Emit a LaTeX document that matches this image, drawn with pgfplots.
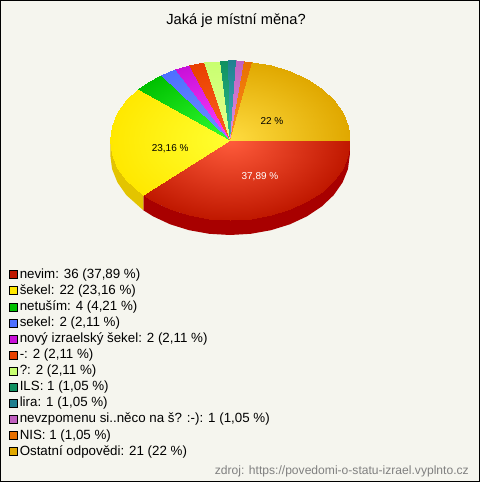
\documentclass[border=0pt]{standalone}
\usepackage{pgfplots}
\pgfplotsset{compat=1.18}
\usepackage{fontspec}
\setmainfont{Liberation Sans}
\definecolor{bgc}{HTML}{F5F5EE}
\pgfplotsset{
 slice/.style n args={2}{patch,patch type=triangle,shader=interp,forget plot,
  point meta=explicit,point meta min=0,point meta max=1,
  colormap={m}{color(0)=(#1) color(1)=(#2)},colormap name=m},
 leg/.style={legend image code/.code={\draw[black,line width=.6pt,fill=#1] (0pt,-3pt) rectangle (6pt,3pt);\path (6.9pt,0pt);}},
}
\definecolor{c1}{HTML}{C01800}\definecolor{c2}{HTML}{FFE800}\definecolor{c3}{HTML}{00C000}
\definecolor{c4}{HTML}{4D6FFF}\definecolor{c5}{HTML}{C810D8}\definecolor{c6}{HTML}{E84000}
\definecolor{c7}{HTML}{C8FF70}\definecolor{c8}{HTML}{109060}\definecolor{c9}{HTML}{208090}
\definecolor{c10}{HTML}{C060C0}\definecolor{c11}{HTML}{E87000}\definecolor{c12}{HTML}{E0A800}
\definecolor{d1}{HTML}{FF5C3C}\definecolor{d2}{HTML}{FFFF30}\definecolor{d3}{HTML}{33FF33}
\definecolor{d4}{HTML}{7090FF}\definecolor{d5}{HTML}{FF40FF}\definecolor{d6}{HTML}{FF6020}
\definecolor{d7}{HTML}{E8FF90}\definecolor{d8}{HTML}{30C090}\definecolor{d9}{HTML}{40B0C0}
\definecolor{d10}{HTML}{E090E0}\definecolor{d11}{HTML}{FF9020}\definecolor{d12}{HTML}{FFDC40}
\definecolor{wa}{HTML}{A80000}\definecolor{wb}{HTML}{E3C400}
\begin{document}
\begin{tikzpicture}
\begin{axis}[
 scale only axis,width=359.25pt,height=360.75pt,
 xmin=-1.9167,xmax=2.0833,ymin=-4.275,ymax=1.75,
 xtick=\empty,ytick=\empty,
 axis background/.style={fill=bgc},
 axis line style={black,line width=.75pt},
 clip=false,
 legend style={at={(axis cs:-1.845,-1.6)},anchor=north west,draw=none,fill=none,
  font=\fontsize{10pt}{12pt}\selectfont,row sep=1.87pt,inner sep=0pt,outer sep=0pt,
  nodes={inner sep=.6pt,text height=7pt,text depth=2pt}},
 legend cell align=left,
]
% side wall
\addplot[fill=wa,draw=none,forget plot] coordinates {
(1,0)(.9848,-.1736)(.9397,-.3420)(.8660,-.5)(.7660,-.6428)(.6428,-.7660)(.5,-.8660)(.3420,-.9397)(.1736,-.9848)(0,-1)(-.1736,-.9848)(-.3420,-.9397)(-.5,-.8660)(-.6428,-.7660)(-.7244,-.6894)
(-.7244,-.8769)(-.6428,-.9535)(-.5,-1.0535)(-.3420,-1.1272)(-.1736,-1.1723)(0,-1.1875)(.1736,-1.1723)(.3420,-1.1272)(.5,-1.0535)(.6428,-.9535)(.7660,-.8303)(.8660,-.6875)(.9397,-.5295)(.9848,-.3611)(1,-.1875)} -- cycle;
\addplot[draw=none,forget plot,fill=wb] coordinates {
(-.7244,-.6894)(-.8660,-.5)(-.9397,-.3420)(-.9848,-.1736)(-1,0)(-1,-.1875)(-.9848,-.3611)(-.9397,-.5295)(-.8660,-.6875)(-.7244,-.8769)} -- cycle;
% top face
\addplot[slice={d1}{c1}] coordinates {
(0,0)[0] (1,0)[1] (.9848,-.1736)[1]
(0,0)[0] (.9848,-.1736)[1] (.9397,-.3420)[1]
(0,0)[0] (.9397,-.3420)[1] (.8660,-.5)[1]
(0,0)[0] (.8660,-.5)[1] (.7660,-.6428)[1]
(0,0)[0] (.7660,-.6428)[1] (.6428,-.7660)[1]
(0,0)[0] (.6428,-.7660)[1] (.5,-.8660)[1]
(0,0)[0] (.5,-.8660)[1] (.3420,-.9397)[1]
(0,0)[0] (.3420,-.9397)[1] (.1736,-.9848)[1]
(0,0)[0] (.1736,-.9848)[1] (0,-1)[1]
(0,0)[0] (0,-1)[1] (-.1736,-.9848)[1]
(0,0)[0] (-.1736,-.9848)[1] (-.3420,-.9397)[1]
(0,0)[0] (-.3420,-.9397)[1] (-.5,-.8660)[1]
(0,0)[0] (-.5,-.8660)[1] (-.6428,-.7660)[1]
(0,0)[0] (-.6428,-.7660)[1] (-.7244,-.6894)[1]
};
\addplot[slice={d2}{c2}] coordinates {
(0,0)[0] (-.7244,-.6894)[1] (-.8660,-.5)[1]
(0,0)[0] (-.8660,-.5)[1] (-.9397,-.3420)[1]
(0,0)[0] (-.9397,-.3420)[1] (-.9848,-.1736)[1]
(0,0)[0] (-.9848,-.1736)[1] (-1,0)[1]
(0,0)[0] (-1,0)[1] (-.9848,.1736)[1]
(0,0)[0] (-.9848,.1736)[1] (-.9397,.3420)[1]
(0,0)[0] (-.9397,.3420)[1] (-.8660,.5)[1]
(0,0)[0] (-.8660,.5)[1] (-.7684,.6400)[1]
};
\addplot[slice={d3}{c3}] coordinates {
(0,0)[0] (-.7684,.6400)[1] (-.6820,.7314)[1]
(0,0)[0] (-.6820,.7314)[1] (-.5743,.8187)[1]
};
\addplot[slice={d4}{c4}] coordinates {(0,0)[0] (-.5743,.8187)[1] (-.4613,.8872)[1]};
\addplot[slice={d5}{c5}] coordinates {(0,0)[0] (-.4613,.8872)[1] (-.3402,.9404)[1]};
\addplot[slice={d6}{c6}] coordinates {(0,0)[0] (-.3402,.9404)[1] (-.2134,.9770)[1]};
\addplot[slice={d7}{c7}] coordinates {(0,0)[0] (-.2134,.9770)[1] (-.0826,.9966)[1]};
\addplot[slice={d8}{c8}] coordinates {(0,0)[0] (-.0826,.9966)[1] (-.0166,.9999)[1]};
\addplot[slice={d9}{c9}] coordinates {(0,0)[0] (-.0166,.9999)[1] (.0495,.9988)[1]};
\addplot[slice={d10}{c10}] coordinates {(0,0)[0] (.0495,.9988)[1] (.1155,.9933)[1]};
\addplot[slice={d11}{c11}] coordinates {(0,0)[0] (.1155,.9933)[1] (.1809,.9835)[1]};
\addplot[slice={d12}{c12}] coordinates {
(0,0)[0] (.1809,.9835)[1] (.3420,.9397)[1]
(0,0)[0] (.3420,.9397)[1] (.5,.8660)[1]
(0,0)[0] (.5,.8660)[1] (.6428,.7660)[1]
(0,0)[0] (.6428,.7660)[1] (.7660,.6428)[1]
(0,0)[0] (.7660,.6428)[1] (.8660,.5)[1]
(0,0)[0] (.8660,.5)[1] (.9397,.3420)[1]
(0,0)[0] (.9397,.3420)[1] (.9848,.1736)[1]
(0,0)[0] (.9848,.1736)[1] (1,0)[1]
};
% legend
\addlegendimage{leg=c1}\addlegendentry{nevim: 36 (37,89 \%)}
\addlegendimage{leg=c2}\addlegendentry{šekel: 22 (23,16 \%)}
\addlegendimage{leg=c3}\addlegendentry{netuším: 4 (4,21 \%)}
\addlegendimage{leg=c4}\addlegendentry{sekel: 2 (2,11 \%)}
\addlegendimage{leg=c5}\addlegendentry{nový izraelský šekel: 2 (2,11 \%)}
\addlegendimage{leg=c6}\addlegendentry{-: 2 (2,11 \%)}
\addlegendimage{leg=c7}\addlegendentry{?: 2 (2,11 \%)}
\addlegendimage{leg=c8}\addlegendentry{ILS: 1 (1,05 \%)}
\addlegendimage{leg=c9}\addlegendentry{lira: 1 (1,05 \%)}
\addlegendimage{leg=c10}\addlegendentry{nevzpomenu si..něco na š? :-): 1 (1,05 \%)}
\addlegendimage{leg=c11}\addlegendentry{NIS: 1 (1,05 \%)}
\addlegendimage{leg=c12}\addlegendentry{Ostatní odpovědi: 21 (22 \%)}
% labels
\node[font=\fontsize{7.5pt}{9pt}\selectfont,text=white] at (axis cs:.25,-.46) {37,89 \%};
\node[font=\fontsize{7.5pt}{9pt}\selectfont] at (axis cs:-.5,-.1) {23,16 \%};
\node[font=\fontsize{7.5pt}{9pt}\selectfont] at (axis cs:.35,.24) {22 \%};
\node[font=\fontsize{11pt}{13pt}\selectfont] at (axis cs:.05,1.5) {Jaká je místní měna?};
\node[font=\fontsize{9.07pt}{11pt}\selectfont,text=black!50,anchor=east] at (axis cs:2.033,-4.15) {zdroj: https://povedomi-o-statu-izrael.vyplnto.cz};
\end{axis}
\end{tikzpicture}
\end{document}
